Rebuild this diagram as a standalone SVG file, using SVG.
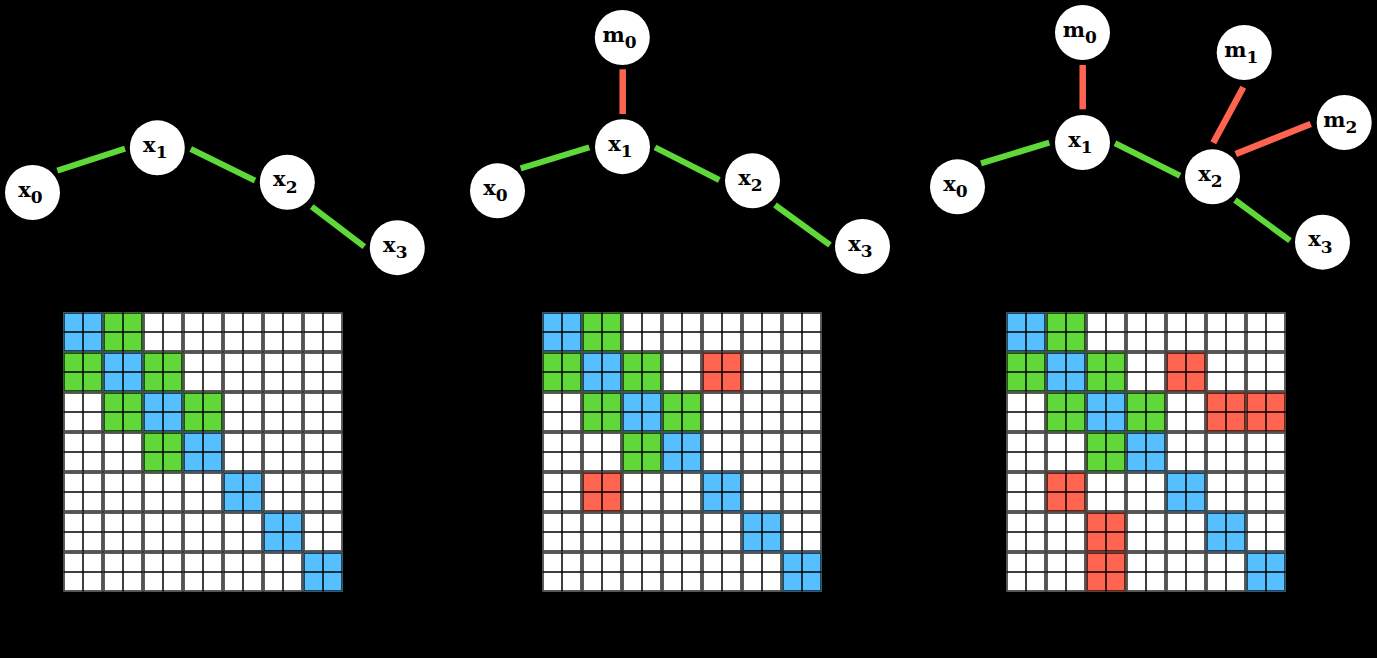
<svg xmlns="http://www.w3.org/2000/svg" xmlns:xlink="http://www.w3.org/1999/xlink" width="1377" height="658" viewBox="0 0 1377 658">
<style>
.node circle{fill:#fff}
.lbl{font-family:"DejaVu Serif","Liberation Serif",serif;font-weight:bold;font-size:21px;fill:#000;text-anchor:middle}
.sub{font-size:17px}
.eg{stroke:#5FD83A;stroke-width:6;stroke-linecap:butt;fill:none}
.er{stroke:#FF6450;stroke-width:6.5;stroke-linecap:butt;fill:none}
.b{fill:#56BFFF}
.g{fill:#60D83A}
.r{fill:#FF6450}
</style>
<defs>
<g id="blk">
<rect x="0.5" y="0.5" width="39" height="39"/>
<rect x="1.2" y="1.2" width="37.6" height="37.6" fill="none" stroke="#000" stroke-opacity="0.7" stroke-width="1.4"/>
<path d="M20 0.5V39.5M0.5 20H39.5" stroke="#000" stroke-width="1.5" fill="none"/>
</g>
<pattern id="grid" width="40" height="40" patternUnits="userSpaceOnUse">
<rect width="40" height="40" fill="#000"/>
<use xlink:href="#blk" fill="#fff"/>
</pattern>
</defs>
<rect width="1377" height="658" fill="#000"/>

<g id="connectors">
<line class="eg" x1="57.3" y1="170.7" x2="125" y2="148.7"/>
<line class="eg" x1="190.7" y1="149" x2="255" y2="180.5"/>
<line class="eg" x1="311.7" y1="206.7" x2="364.3" y2="246.7"/>
<line class="er" x1="622.7" y1="69.3" x2="622.7" y2="114"/>
<line class="eg" x1="520.7" y1="168.3" x2="589.3" y2="147.3"/>
<line class="eg" x1="655" y1="147.3" x2="719.3" y2="180"/>
<line class="eg" x1="775" y1="205" x2="830" y2="245"/>
<line class="er" x1="1082.7" y1="65" x2="1082.7" y2="109.3"/>
<line class="er" x1="1243.3" y1="87.3" x2="1213.3" y2="142.7"/>
<line class="er" x1="1310.7" y1="124" x2="1235.7" y2="154"/>
<line class="eg" x1="981" y1="163.3" x2="1049.3" y2="142.7"/>
<line class="eg" x1="1115" y1="143.3" x2="1180" y2="175.7"/>
<line class="eg" x1="1235" y1="200" x2="1290" y2="240.7"/>
</g>

<g id="g1-x0" class="node"><circle cx="32.5" cy="192.5" r="27.5"/><text class="lbl" x="30.5" y="196.5">x<tspan class="sub" dy="6.5">0</tspan></text></g>
<g id="g1-x1" class="node"><circle cx="157.3" cy="147.8" r="27.5"/><text class="lbl" x="155.3" y="151.8">x<tspan class="sub" dy="6.5">1</tspan></text></g>
<g id="g1-x2" class="node"><circle cx="287.3" cy="182.3" r="27.5"/><text class="lbl" x="285.3" y="186.3">x<tspan class="sub" dy="6.5">2</tspan></text></g>
<g id="g1-x3" class="node"><circle cx="397.3" cy="247.7" r="27.5"/><text class="lbl" x="395.3" y="251.7">x<tspan class="sub" dy="6.5">3</tspan></text></g>

<g id="g2-m0" class="node"><circle cx="622.3" cy="37.5" r="27.5"/><text class="lbl" x="619.5" y="41.5">m<tspan class="sub" dy="6.5">0</tspan></text></g>
<g id="g2-x0" class="node"><circle cx="497.5" cy="190.8" r="27.5"/><text class="lbl" x="495.5" y="194.8">x<tspan class="sub" dy="6.5">0</tspan></text></g>
<g id="g2-x1" class="node"><circle cx="622.5" cy="146.7" r="27.5"/><text class="lbl" x="620.5" y="150.7">x<tspan class="sub" dy="6.5">1</tspan></text></g>
<g id="g2-x2" class="node"><circle cx="752.5" cy="180.8" r="27.5"/><text class="lbl" x="750.5" y="184.8">x<tspan class="sub" dy="6.5">2</tspan></text></g>
<g id="g2-x3" class="node"><circle cx="862.5" cy="246.5" r="27.5"/><text class="lbl" x="860.5" y="250.5">x<tspan class="sub" dy="6.5">3</tspan></text></g>

<g id="g3-m0" class="node"><circle cx="1082.5" cy="32.5" r="27.5"/><text class="lbl" x="1079.7" y="36.5">m<tspan class="sub" dy="6.5">0</tspan></text></g>
<g id="g3-m1" class="node"><circle cx="1244.2" cy="52.5" r="27.5"/><text class="lbl" x="1241.4" y="56.5">m<tspan class="sub" dy="6.5">1</tspan></text></g>
<g id="g3-m2" class="node"><circle cx="1344.2" cy="122.5" r="27.5"/><text class="lbl" x="1340.4" y="126.5">m<tspan class="sub" dy="6.5">2</tspan></text></g>
<g id="g3-x0" class="node"><circle cx="957.5" cy="186.8" r="27.5"/><text class="lbl" x="955.5" y="190.8">x<tspan class="sub" dy="6.5">0</tspan></text></g>
<g id="g3-x1" class="node"><circle cx="1082.5" cy="142.5" r="27.5"/><text class="lbl" x="1080.5" y="146.5">x<tspan class="sub" dy="6.5">1</tspan></text></g>
<g id="g3-x2" class="node"><circle cx="1212.5" cy="176.8" r="27.5"/><text class="lbl" x="1210.5" y="180.8">x<tspan class="sub" dy="6.5">2</tspan></text></g>
<g id="g3-x3" class="node"><circle cx="1322.5" cy="242.2" r="27.5"/><text class="lbl" x="1320.5" y="246.2">x<tspan class="sub" dy="6.5">3</tspan></text></g>

<g id="matrix1" transform="translate(63,312)">
<rect width="280" height="280" fill="url(#grid)"/>
<use xlink:href="#blk" class="b" x="0" y="0"/>
<use xlink:href="#blk" class="b" x="40" y="40"/>
<use xlink:href="#blk" class="b" x="80" y="80"/>
<use xlink:href="#blk" class="b" x="120" y="120"/>
<use xlink:href="#blk" class="b" x="160" y="160"/>
<use xlink:href="#blk" class="b" x="200" y="200"/>
<use xlink:href="#blk" class="b" x="240" y="240"/>
<use xlink:href="#blk" class="g" x="40" y="0"/>
<use xlink:href="#blk" class="g" x="0" y="40"/>
<use xlink:href="#blk" class="g" x="80" y="40"/>
<use xlink:href="#blk" class="g" x="40" y="80"/>
<use xlink:href="#blk" class="g" x="120" y="80"/>
<use xlink:href="#blk" class="g" x="80" y="120"/>
</g>

<g id="matrix2" transform="translate(542,312)">
<rect width="280" height="280" fill="url(#grid)"/>
<use xlink:href="#blk" class="b" x="0" y="0"/>
<use xlink:href="#blk" class="b" x="40" y="40"/>
<use xlink:href="#blk" class="b" x="80" y="80"/>
<use xlink:href="#blk" class="b" x="120" y="120"/>
<use xlink:href="#blk" class="b" x="160" y="160"/>
<use xlink:href="#blk" class="b" x="200" y="200"/>
<use xlink:href="#blk" class="b" x="240" y="240"/>
<use xlink:href="#blk" class="g" x="40" y="0"/>
<use xlink:href="#blk" class="g" x="0" y="40"/>
<use xlink:href="#blk" class="g" x="80" y="40"/>
<use xlink:href="#blk" class="g" x="40" y="80"/>
<use xlink:href="#blk" class="g" x="120" y="80"/>
<use xlink:href="#blk" class="g" x="80" y="120"/>
<use xlink:href="#blk" class="r" x="160" y="40"/>
<use xlink:href="#blk" class="r" x="40" y="160"/>
</g>

<g id="matrix3" transform="translate(1006,312)">
<rect width="280" height="280" fill="url(#grid)"/>
<use xlink:href="#blk" class="b" x="0" y="0"/>
<use xlink:href="#blk" class="b" x="40" y="40"/>
<use xlink:href="#blk" class="b" x="80" y="80"/>
<use xlink:href="#blk" class="b" x="120" y="120"/>
<use xlink:href="#blk" class="b" x="160" y="160"/>
<use xlink:href="#blk" class="b" x="200" y="200"/>
<use xlink:href="#blk" class="b" x="240" y="240"/>
<use xlink:href="#blk" class="g" x="40" y="0"/>
<use xlink:href="#blk" class="g" x="0" y="40"/>
<use xlink:href="#blk" class="g" x="80" y="40"/>
<use xlink:href="#blk" class="g" x="40" y="80"/>
<use xlink:href="#blk" class="g" x="120" y="80"/>
<use xlink:href="#blk" class="g" x="80" y="120"/>
<use xlink:href="#blk" class="r" x="160" y="40"/>
<use xlink:href="#blk" class="r" x="200" y="80"/>
<use xlink:href="#blk" class="r" x="240" y="80"/>
<use xlink:href="#blk" class="r" x="40" y="160"/>
<use xlink:href="#blk" class="r" x="80" y="200"/>
<use xlink:href="#blk" class="r" x="80" y="240"/>
</g>
</svg>
